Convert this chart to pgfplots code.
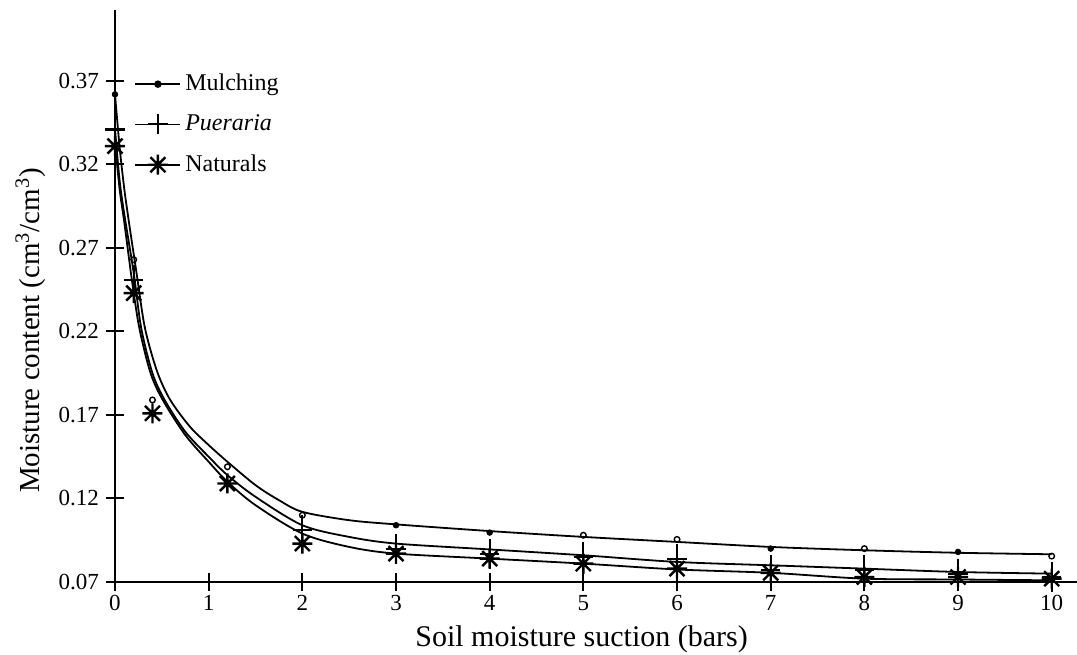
\documentclass[border=0pt]{standalone}
\usepackage{fontspec}
\setmainfont{Liberation Serif}
\usepackage{pgfplots}
\pgfplotsset{compat=1.18}
\pgfdeclareplotmark{star8}{%
 \pgfpathmoveto{\pgfqpoint{0pt}{-\pgfplotmarksize}}\pgfpathlineto{\pgfqpoint{0pt}{\pgfplotmarksize}}%
 \pgfpathmoveto{\pgfqpoint{-\pgfplotmarksize}{0pt}}\pgfpathlineto{\pgfqpoint{\pgfplotmarksize}{0pt}}%
 \pgfpathmoveto{\pgfqpoint{-0.75\pgfplotmarksize}{-0.75\pgfplotmarksize}}\pgfpathlineto{\pgfqpoint{0.75\pgfplotmarksize}{0.75\pgfplotmarksize}}%
 \pgfpathmoveto{\pgfqpoint{-0.75\pgfplotmarksize}{0.75\pgfplotmarksize}}\pgfpathlineto{\pgfqpoint{0.75\pgfplotmarksize}{-0.75\pgfplotmarksize}}%
 \pgfusepathqstroke}
\begin{document}
\begin{tikzpicture}
\begin{axis}[
 scale only axis, width=481pt, height=286pt,
 xmin=0, xmax=10.27, ymin=0.07, ymax=0.4125,
 clip=false,
 axis lines=left, axis line style={-, line width=1.2pt},
 xtick={0,...,10}, ytick={0.07,0.12,0.17,0.22,0.27,0.32,0.37},
 tick align=center, major tick length=9pt, tick style={line width=1pt, black},
 /pgf/number format/assume math mode=true,
 yticklabel style={/pgf/number format/fixed, /pgf/number format/fixed zerofill, /pgf/number format/precision=2},
 xticklabel style={yshift=1.5pt},
 ticklabel style={font=\fontsize{11.5}{13}\selectfont},
 label style={font=\fontsize{14.5}{17}\selectfont},
 xlabel={Soil moisture suction (bars)},
 ylabel={Moisture content (cm\textsuperscript{3}/cm\textsuperscript{3})},
 xlabel style={at={(axis description cs:0.485,-0.1)}, anchor=center, font=\fontsize{15}{17}\selectfont},
 ylabel style={at={(axis description cs:-0.088,0.44)}, anchor=center},
 legend style={draw=none, fill=none, at={(axis cs:0.14,0.379)}, anchor=north west,
   font=\fontsize{12}{13}\selectfont, row sep=6.5pt},
 legend cell align=left,
 legend image code/.code={\draw[#1] (0pt,0pt) -- (22.5pt,0pt); \draw[#1] plot coordinates {(11.25pt,0pt)};},
]
% fitted curves
\addplot[smooth, black, line width=0.9pt, forget plot] coordinates {
(0,0.362)(0.05,0.33)(0.1,0.305)(0.15,0.285)(0.23,0.255)(0.32,0.222)(0.45,0.196)(0.59,0.179)(0.8,0.163)(1.0,0.152)(1.2,0.142)(1.5,0.128)(1.75,0.119)(2,0.112)(2.5,0.107)(3,0.1045)(4,0.1005)(5,0.097)(6,0.094)(7,0.091)(8,0.089)(9,0.0875)(10,0.0866)};
\addplot[smooth, black, line width=0.9pt, forget plot] coordinates {
(0,0.341)(0.05,0.31)(0.1,0.29)(0.2,0.255)(0.28,0.222)(0.4,0.195)(0.53,0.179)(0.75,0.16)(1.0,0.145)(1.2,0.134)(1.5,0.121)(2,0.104)(2.5,0.097)(3,0.093)(4,0.0895)(5,0.086)(6,0.082)(7,0.080)(8,0.078)(9,0.076)(10,0.075)};
\addplot[smooth, black, line width=0.9pt, forget plot] coordinates {
(0,0.333)(0.05,0.305)(0.1,0.285)(0.18,0.251)(0.26,0.222)(0.38,0.195)(0.51,0.179)(0.75,0.158)(1.0,0.142)(1.2,0.130)(1.5,0.116)(2,0.099)(2.5,0.091)(3,0.087)(4,0.084)(5,0.081)(6,0.0775)(7,0.0755)(8,0.072)(9,0.0715)(10,0.071)};
% Mulching marks
\addplot[only marks, black, mark=o, mark size=1.4pt, line width=0.7pt, forget plot] coordinates {
(0.2,0.263)(0.4,0.179)(1.2,0.139)(2,0.110)(5,0.098)(6,0.0955)(8,0.090)(10,0.0855)};
\addplot[only marks, black, mark=*, mark size=1.4pt, forget plot] coordinates {
(0,0.362)(3,0.104)(4,0.0996)(7,0.090)(9,0.088)};
% Pueraria marks
\addplot[only marks, black, mark=+, mark size=7.5pt, mark options={xscale=0.65, line width=1.1pt}, forget plot] coordinates {
(0,0.341)(0.2,0.251)(2,0.101)(3,0.090)(4,0.087)(5,0.085)(6,0.084)(7,0.077)(8,0.077)(9,0.075)(10,0.073)};
% Naturals marks
\addplot[only marks, black, mark=star8, mark size=5pt, mark options={line width=1.2pt}, forget plot] coordinates {
(0,0.331)(0.2,0.243)(0.4,0.171)(1.2,0.129)(2,0.093)(3,0.087)(4,0.084)(5,0.081)(6,0.078)(7,0.0755)(8,0.073)(9,0.073)(10,0.072)};
\addlegendimage{black, line width=0.9pt, mark=*, mark size=1.4pt}
\addlegendentry{Mulching}
\addlegendimage{black, line width=0.9pt, mark=+, mark size=5pt, mark options={line width=1pt}}
\addlegendentry{\textit{Pueraria}}
\addlegendimage{black, line width=0.9pt, mark=star8, mark size=5pt, mark options={line width=1.2pt}}
\addlegendentry{Naturals}
\end{axis}
\pgfresetboundingbox
\path[use as bounding box] (-57.5pt,-36pt) rectangle (481pt,291pt);
\end{tikzpicture}
\end{document}
